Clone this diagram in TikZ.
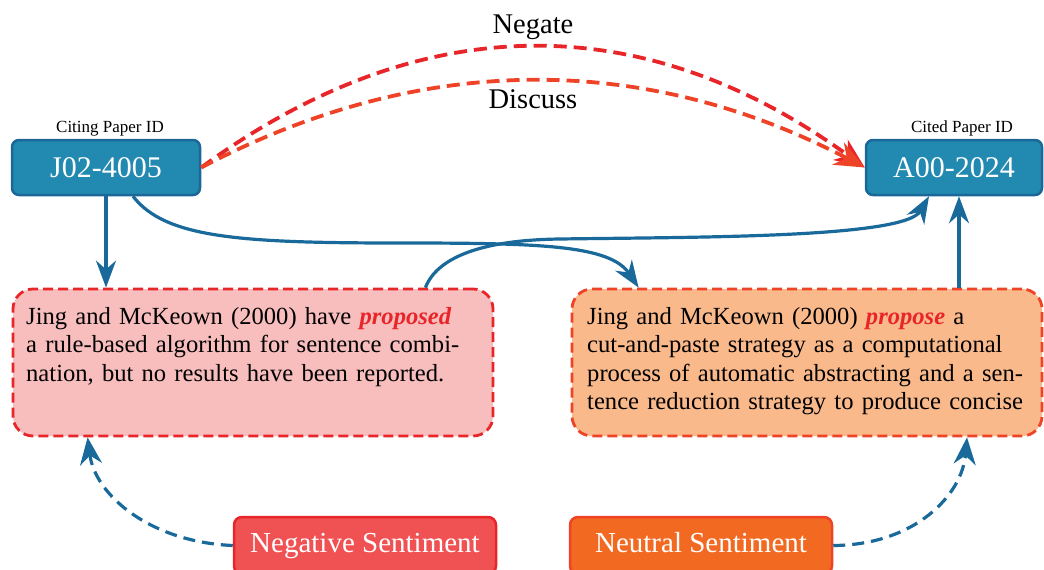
\documentclass[tikz,border=0pt]{standalone}
\usepackage{fontspec}
\setmainfont{Liberation Serif}
\usetikzlibrary{arrows.meta,calc}

\definecolor{idfill}{HTML}{2289B1}
\definecolor{idline}{HTML}{1B6898}
\definecolor{flowblue}{HTML}{19699A}
\definecolor{negred}{HTML}{E8262A}
\definecolor{neuorange}{HTML}{EE4326}
\definecolor{negbg}{HTML}{F8BDBD}
\definecolor{neubg}{HTML}{F9B98B}
\definecolor{negtag}{HTML}{F05153}
\definecolor{neutag}{HTML}{F26922}

% emphasised verb in a citation sentence
\newcommand{\hotword}[1]{\textcolor{negred}{\bfseries\itshape #1}}

\begin{document}
\begin{tikzpicture}[x=1pt,y=-1pt,
  idbox/.style={draw=idline,fill=idfill,line width=2.5pt,rounded corners=7pt,
    inner sep=0pt,text=white,font=\fontsize{30}{30}\selectfont},
  capt/.style={font=\fontsize{17}{17}\selectfont,anchor=base,inner sep=0pt},
  quotebox/.style={line width=2.8pt,rounded corners=20pt,dash pattern=on 10pt off 5pt},
  bodytext/.style={anchor=base west,inner sep=0pt,text width=480pt,align=left,
    font=\fontsize{24.6}{28.5}\selectfont},
  sentag/.style={line width=2.5pt,rounded corners=8pt,inner sep=0pt,text=white,
    font=\fontsize{29}{29}\selectfont,minimum height=57pt,
    text height=20pt,text depth=7pt},
  bluearrow/.style={draw=flowblue,line width=3.2pt,-{Stealth[length=27pt,width=20pt]}},
  bluedash/.style={bluearrow,dash pattern=on 12pt off 7pt,
    -{Stealth[length=27pt,width=22pt]}},
  relarrow/.style={line width=3.8pt,dash pattern=on 13pt off 7pt,
    -{Stealth[length=30pt,width=25pt]}},
  reltext/.style={font=\fontsize{28.5}{28.5}\selectfont,anchor=base,inner sep=0pt}
]
\useasboundingbox (0,0) rectangle (1044,570);

% paper identifiers
\node[idbox,minimum width=188pt,minimum height=55pt] (J02) at (106,167.5) {J02-4005};
\node[idbox,minimum width=176pt,minimum height=55pt] (A00) at (954,167.5) {A00-2024};
\node[capt] (citing) at (110,132) {Citing Paper ID};
\node[capt] (cited) at (962,132) {Cited Paper ID};

% citation contexts
\node[quotebox,draw=negred,fill=negbg,minimum width=480pt,minimum height=147pt] (lbox) at (253,362.5) {};
\node[quotebox,draw=neuorange,fill=neubg,minimum width=470pt,minimum height=147pt] (rbox) at (807,362.5) {};
\node[bodytext] (ltext) at (26,324) {Jing and McKeown (2000) have \hotword{proposed}\\
a rule-based algorithm for sentence combi-\\
nation, but no results have been reported.};
\node[bodytext] (rtext) at (587,324) {Jing and McKeown (2000) \hotword{propose} a\\
cut-and-paste strategy as a computational\\
process of automatic abstracting and a sen-\\
tence reduction strategy to produce concise};

% sentiment tags
\node[sentag,draw=negred,fill=negtag,minimum width=262pt] (neg) at (365,545.5) {Negative Sentiment};
\node[sentag,draw=neuorange,fill=neutag,minimum width=262pt] (neu) at (701,545.5) {Neutral Sentiment};

% relation arcs between the papers
\draw[relarrow,color=negred]
  (J02.east) .. controls (421,7) and (644,7) .. (A00.west);
\draw[relarrow,color=neuorange]
  (J02.east) .. controls (421,52) and (644,52) .. (A00.west);
\node[reltext] (negate) at (533,33) {Negate};
\node[reltext] (discuss) at (533,108) {Discuss};

% links between papers and contexts
\coordinate (c1s) at ($(J02.south)+(27,0)$);
\coordinate (c1e) at ($(rbox.north west)+(68,0)$);
\coordinate (c2s) at ($(lbox.north east)+(-69,0)$);
\coordinate (c2e) at ($(A00.south)+(-25,0)$);
\coordinate (upA) at ($(A00.south)+(5,0)$);

\draw[bluearrow] (J02.south) -- (J02.south |- lbox.north);
\draw[bluearrow] (c1s) .. controls (165,238) and (240,243) .. (400,243)
  .. controls (540,243) and (610,245) .. (c1e);
\draw[bluearrow] (c2s) .. controls (437,258) and (480,240) .. (560,239)
  .. controls (700,237) and (905,238) .. (c2e);
\draw[bluearrow] (upA |- rbox.north) -- (upA);

% sentiment pointers
\coordinate (negtip) at ($(lbox.south west)+(76,0)$);
\coordinate (neutip) at ($(rbox.south)+(160,0)$);
\draw[bluedash] (neg.west) .. controls (150,542) and (95,495) .. (negtip);
\draw[bluedash] (neu.east) .. controls (915,545) and (962,495) .. (neutip);
\end{tikzpicture}
\end{document}
